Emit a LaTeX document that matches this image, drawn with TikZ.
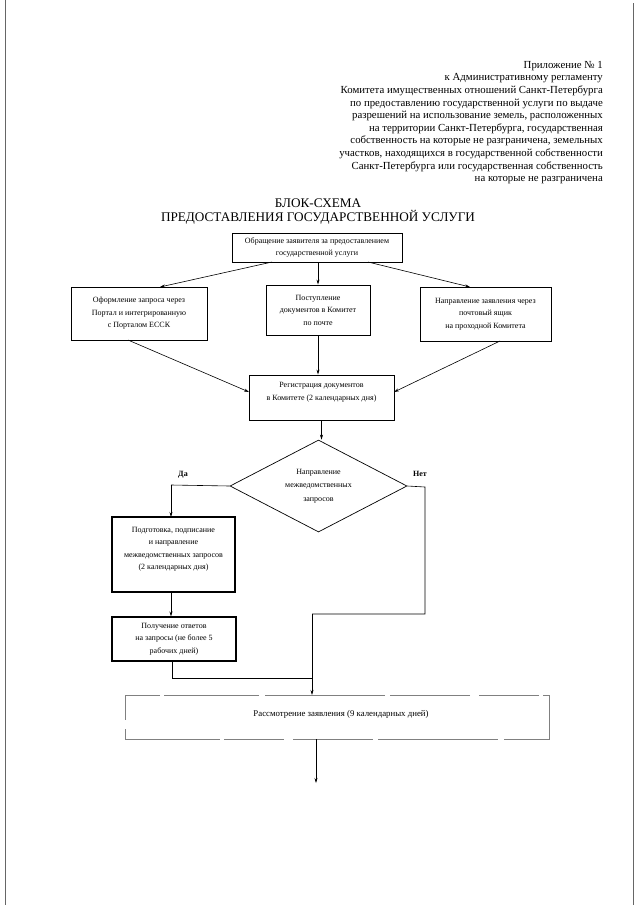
\documentclass[tikz,border=0pt]{standalone}
\usepackage{fontspec}
\setmainfont{Liberation Serif}
\usetikzlibrary{shapes.geometric,arrows.meta}
\begin{document}
\begin{tikzpicture}[x=1pt,y=-1pt,
  box/.style={draw=black,line width=0.9pt,align=center,inner sep=1pt,font=\fontsize{8}{12.5}\selectfont},
  conn/.style={draw=black,line width=0.6pt},
  arr/.style={conn,-{Stealth[length=5pt,width=3pt]}},
  lbl/.style={font=\fontsize{8}{10}\selectfont\bfseries},
  edge/.style={draw=black!60,line width=1pt}]
\useasboundingbox[fill=white] (0,0) rectangle (640,905);
% page edges (scan)
\draw[edge] (5,0) -- (5,905);
\draw[edge] (633,3) -- (633,905);
% header
\node[anchor=north east,align=right,inner sep=0pt,font=\fontsize{10.8}{12.6}\selectfont] (hdr) at (603,61)
{Приложение № 1\\к Административному регламенту\\Комитета имущественных отношений Санкт-Петербурга\\по предоставлению государственной услуги по выдаче\\разрешений на использование земель, расположенных\\на территории Санкт-Петербурга, государственная\\собственность на которые не разграничена, земельных\\участков, находящихся в государственной собственности\\Санкт-Петербурга или государственная собственность\\на которые не разграничена};
\node[align=center,inner sep=0pt,font=\fontsize{13.2}{14}\selectfont] (title) at (318,212)
{БЛОК-СХЕМА\\ПРЕДОСТАВЛЕНИЯ ГОСУДАРСТВЕННОЙ УСЛУГИ};
% boxes
\node[box,minimum width=170pt,minimum height=29pt] (b1) at (317,247.5)
{Обращение заявителя за предоставлением\\государственной услуги};
\node[box,minimum width=136pt,minimum height=53pt] (bl) at (139,313.5)
{Оформление запроса через\\Портал и интегрированную\\с Порталом ЕССК};
\node[box,minimum width=104pt,minimum height=50pt] (bm) at (318,310)
{Поступление\\документов в Комитет\\по почте};
\node[box,minimum width=131pt,minimum height=54pt] (br) at (485.5,314)
{Направление заявления через\\почтовый ящик\\на проходной Комитета};
\node[box,minimum width=145pt,minimum height=45pt] (reg) at (321.5,397.5)
{Регистрация документов\\в Комитете (2 календарных дня)\\\mbox{}};
\node[draw=black,line width=0.7pt,shape=diamond,aspect=1.92,minimum width=177pt,minimum height=92pt,inner sep=0pt,align=center,font=\fontsize{8}{13.5}\selectfont] (dec) at (318.5,486)
{Направление\\межведомственных\\запросов};
\node[box,line width=1.1pt,minimum width=123pt,minimum height=75pt] (prep) at (173.5,554.5)
{Подготовка, подписание\\и направление\\межведомственных запросов\\(2 календарных дня)\\\mbox{}};
\node[box,line width=1.1pt,minimum width=124pt,minimum height=44pt] (resp) at (174,639)
{Получение ответов\\на запросы (не более 5\\рабочих дней)};
\node[box,draw=black!50,line width=0.8pt,dash pattern=on 95pt off 4pt on 60pt off 9pt on 80pt off 5pt on 120pt off 6pt,minimum width=424pt,minimum height=44pt,font=\fontsize{8.8}{11}\selectfont] (cons) at (337,717)
{\hspace*{8pt}Рассмотрение заявления (9 календарных дней)\\[-4pt]\mbox{}};
% labels
\node[lbl] (da) at (183,475) {Да};
\node[lbl] (net) at (420,474) {Нет};
% coordinates
\coordinate (b1l) at (272,262);
\coordinate (b1r) at (368,262);
\coordinate (bltop) at (160,287);
\coordinate (brtop) at (470,287);
\coordinate (blbot) at (128,340);
\coordinate (brbot) at (500,341);
\coordinate (regl) at (249,392);
\coordinate (regr) at (394,392);
\coordinate (yL) at (171,485);
\coordinate (yLb) at (171,517);
\coordinate (nR) at (425,487);
\coordinate (nRb) at (425,614);
\coordinate (mid) at (312,614);
\coordinate (rb) at (172,678);
\coordinate (join) at (312,678);
\coordinate (consin) at (312,695);
\coordinate (endc) at (316,783);
% connectors
\draw[arr] (b1l) -- (bltop);
\draw[arr] (b1.south -| bm.north) -- (bm.north);
\draw[arr] (b1r) -- (brtop);
\draw[arr] (blbot) -- (regl);
\draw[arr] (bm.south) -- (bm.south |- reg.north);
\draw[arr] (brbot) -- (regr);
\draw[arr] (reg.south) -- (reg.south |- dec.north);
\draw[conn] (dec.west) -- (yL);
\draw[arr] (yL) -- (yLb);
\draw[conn] (dec.east) -- (nR) -- (nRb) -- (mid);
\draw[arr] (prep.south -| yL) -- (resp.north -| yL);
\draw[conn] (resp.south -| rb) -- (rb) -- (join);
\draw[arr] (mid) -- (consin);
\draw[arr] (cons.south -| endc) -- (endc);
\end{tikzpicture}
\end{document}
